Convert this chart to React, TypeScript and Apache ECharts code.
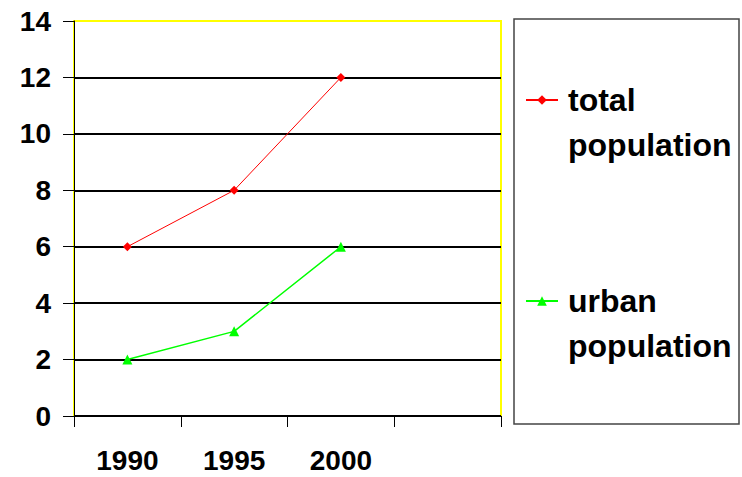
import React, { useEffect, useRef } from "react";
import * as echarts from "echarts";

const categories = ["1990", "1995", "2000", ""];
const totalPopulation = [6, 8, 12];
const urbanPopulation = [2, 3, 6];
const seriesNames = ["total population", "urban population"];

export default function App() {
  const ref = useRef<HTMLDivElement>(null);
  useEffect(() => {
    if (!ref.current) return;
    const chart = echarts.init(ref.current, undefined, { renderer: "svg" });
    const font = "'Liberation Sans', Arial, sans-serif";
    const legendText = {
      fontFamily: font,
      fontSize: 32,
      fontWeight: "bold",
      color: "#000000",
      lineHeight: 45,
      padding: [0, 0, 0, 5],
    };
    chart.setOption({
      animation: false,
      backgroundColor: "#ffffff",
      grid: {
        left: 74,
        right: 241,
        top: 21,
        bottom: 61,
        show: true,
        borderColor: "#ffff00",
        borderWidth: 2,
        backgroundColor: "transparent",
      },
      graphic: [
        {
          type: "rect",
          shape: { x: 514, y: 19, width: 225, height: 405 },
          style: { fill: "transparent", stroke: "#444444", lineWidth: 1.5 },
          z: 0,
        },
      ],
      legend: {
        orient: "vertical",
        left: 525,
        top: 39,
        padding: 0,
        itemGap: 79,
        itemWidth: 32,
        itemHeight: 12,
        data: seriesNames,
        formatter: (name: string) => {
          const parts = name.split(" ");
          return "{g| }\n{t|" + parts[0] + "}\n{t|" + parts[1] + "}";
        },
        textStyle: {
          fontFamily: font,
          fontSize: 32,
          fontWeight: "bold",
          color: "#000000",
          rich: {
            g: { ...legendText },
            t: { ...legendText },
          },
        },
      },
      xAxis: {
        type: "category",
        data: categories,
        boundaryGap: true,
        axisLine: { lineStyle: { color: "#000000", width: 1 } },
        axisTick: { show: true, length: 11, alignWithLabel: false, lineStyle: { color: "#000000" } },
        axisLabel: {
          margin: 30,
          fontFamily: font,
          fontSize: 28,
          fontWeight: "bold",
          color: "#000000",
        },
        splitLine: { show: false },
      },
      yAxis: {
        type: "value",
        min: 0,
        max: 14,
        interval: 2,
        axisLine: { show: true, lineStyle: { color: "#000000", width: 1 } },
        axisTick: { show: true, length: 11, lineStyle: { color: "#000000" } },
        axisLabel: {
          margin: 23,
          fontFamily: font,
          fontSize: 28,
          fontWeight: "bold",
          color: "#000000",
        },
        splitLine: {
          show: true,
          lineStyle: {
            color: ["#000000", "#000000", "#000000", "#000000", "#000000", "#000000", "#000000", "#ffff00"],
            width: 2,
          },
        },
      },
      series: [
        {
          name: seriesNames[0],
          type: "line",
          data: totalPopulation,
          symbol: "diamond",
          symbolSize: 9,
          lineStyle: { color: "#ff0000", width: 1 },
          itemStyle: { color: "#ff0000" },
        },
        {
          name: seriesNames[1],
          type: "line",
          data: urbanPopulation,
          symbol: "triangle",
          symbolSize: 10,
          lineStyle: { color: "#00ff00", width: 1.5 },
          itemStyle: { color: "#00ff00" },
        },
      ],
    });
    return () => chart.dispose();
  }, []);
  return <div ref={ref} style={{ width: 742, height: 477, position: "absolute", left: 0, top: 0 }} />;
}
